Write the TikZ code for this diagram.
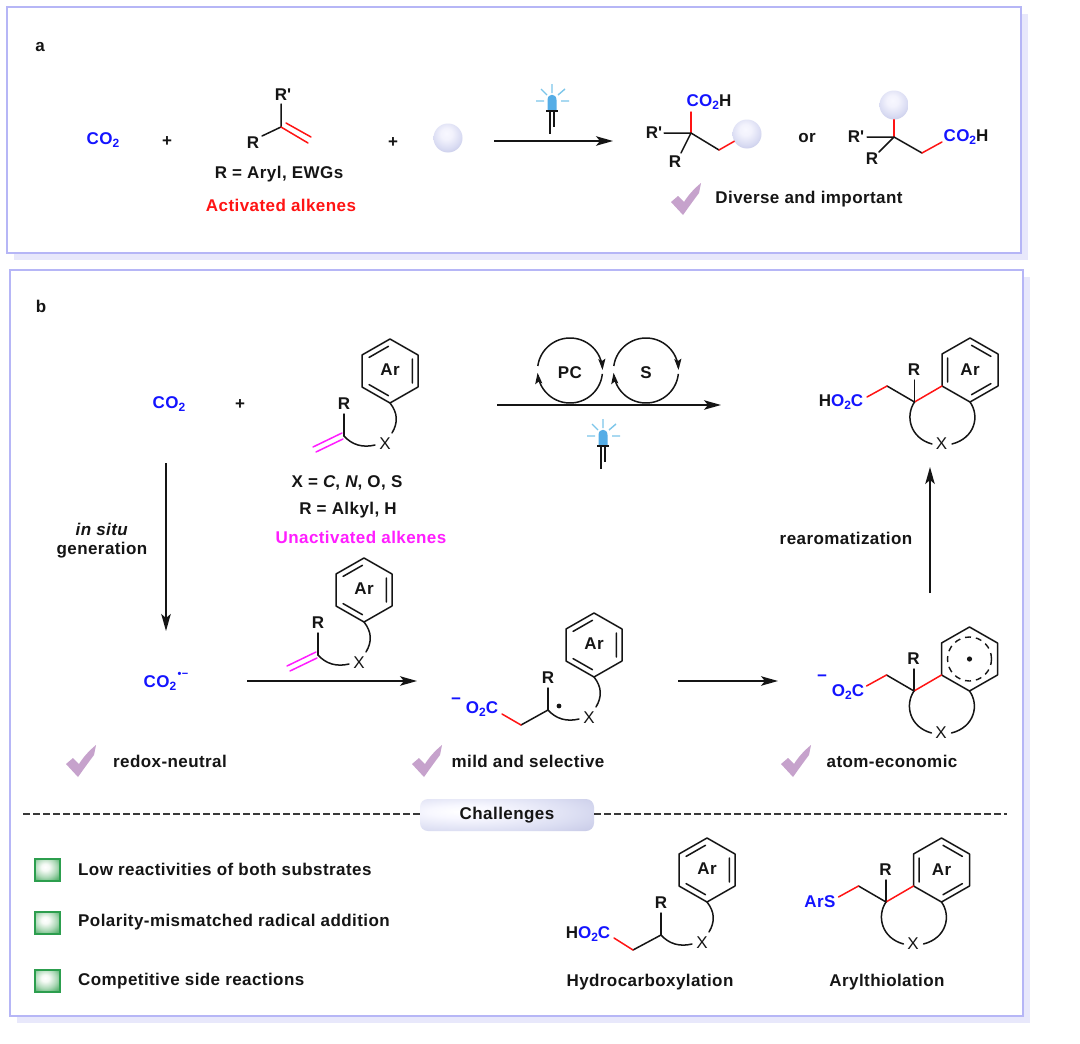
\documentclass[tikz,border=0pt]{standalone}
\usepackage{fontspec}
\setmainfont[LetterSpace=2.5]{Liberation Sans}
\newfontfamily\straightfont[LetterSpace=2.5]{Liberation Sans}
\usetikzlibrary{arrows.meta,calc}
\definecolor{frameblue}{HTML}{B6B6F6}
\definecolor{frameshadow}{HTML}{E8E8FB}
\definecolor{chemblue}{HTML}{1414FF}
\definecolor{chemred}{HTML}{FF1414}
\definecolor{chemmag}{HTML}{FF1EFF}
\definecolor{checkpurple}{HTML}{C6A2CC}
\definecolor{ink}{HTML}{151515}
\definecolor{ledblue}{HTML}{55ADE6}
\definecolor{ledray}{HTML}{7CC6EA}
\definecolor{greenedge}{HTML}{2C9E4E}
\pgfdeclareradialshading{sphereshade}{\pgfpoint{-3bp}{8bp}}{rgb(0bp)=(.97,.97,1);rgb(10bp)=(.95,.95,.99);rgb(25bp)=(.85,.86,.95);rgb(36bp)=(.76,.77,.90);rgb(100bp)=(.74,.75,.88)}
\pgfdeclareradialshading{greenshade}{\pgfpoint{-5bp}{7bp}}{rgb(0bp)=(1,1,1);rgb(8bp)=(.96,.98,.96);rgb(22bp)=(.68,.85,.72);rgb(34bp)=(.36,.70,.45);rgb(100bp)=(.30,.65,.40)}
\pgfdeclareradialshading{pillshade}{\pgfpoint{-14bp}{6bp}}{rgb(0bp)=(1,1,1);rgb(10bp)=(.97,.97,1);rgb(30bp)=(.86,.87,.95);rgb(42bp)=(.79,.80,.91);rgb(100bp)=(.76,.77,.89)}
\newcommand{\lowtwo}{\raisebox{-2.8pt}{\fontsize{12}{12}\selectfont 2}}
\newcommand{\bluetxt}[1]{\textcolor{chemblue}{#1}}
\newcommand{\rprime}{R{\straightfont\bfseries'}}
\tikzset{
  lab/.style={font=\fontsize{17}{19}\selectfont\bfseries,text=ink,inner sep=0pt},
  bnd/.style={line width=1.5pt,draw=ink,line cap=round},
  redbnd/.style={line width=1.5pt,draw=chemred,line cap=round},
  magbnd/.style={line width=1.5pt,draw=chemmag,line cap=round},
  xlab/.style={font=\fontsize{17}{18}\selectfont,text=ink,inner sep=0pt},
  rxnarrow/.style={line width=1.5pt,draw=ink,-{Stealth[length=17pt,width=9.5pt,inset=4pt]}},
  cycarrow/.style={line width=1.5pt,draw=ink,-{Stealth[length=11pt,width=7pt,inset=2pt]}},
  ball/.style={circle,minimum size=29pt,inner sep=0pt,shading=sphereshade},
  gbox/.style={rectangle,minimum width=25pt,minimum height=22pt,inner sep=0pt,draw=greenedge,line width=1.7pt,shading=greenshade},
  framebox/.style={draw=frameblue,line width=2pt,fill=white},
  shadowbox/.style={fill=frameshadow,draw=none}
}
\newcommand{\ringpend}{%
  \draw[bnd,line join=round] (0,-32)--(28,-16)--(28,16)--(0,32)--(-28,16)--(-28,-16)--cycle;
  \draw[bnd] (-1.5,-24.7)--(-20.9,-13.6) (22.4,-12)--(22.4,12) (-20.9,13.6)--(-1.5,24.7);
}
\newcommand{\ringfused}{%
  \draw[bnd,line join=round] (0,-32)--(28,-16)--(28,16)--(0,32)--(-28,16)--(-28,-16)--cycle;
  \draw[bnd] (-22.4,-12)--(-22.4,12) (1.5,-24.7)--(20.9,-13.6) (20.9,13.6)--(1.5,24.7);
}
\newcommand{\pendant}[3]{%
  \begin{scope}[shift={(#2,#3)}]
    \ringpend
    \node[lab] (#1ar) at (0,-1) {Ar};
    \node[lab] (#1r) at (-46,33) {R};
    \node[xlab] (#1x) at (-5,73) {X};
    \coordinate (#1c) at (-46,65);
    \coordinate (#1rb) at (-46,43);
    \draw[bnd] (#1rb)--(#1c);
    \draw[bnd] (0,32) .. controls (8,42) and (8,52) .. (2,62);
    \draw[bnd] (#1c) .. controls (-38,74) and (-27,77) .. (-15,74);
  \end{scope}}
\newcommand{\fusedframe}[3]{%
  \begin{scope}[shift={(#2,#3)}]
    \node[lab] (#1r) at (-56,0) {R};
    \node[xlab] (#1x) at (-28.5,74) {X};
    \coordinate (#1c) at (-55.5,32);
    \coordinate (#1rb) at (-55.5,10);
    \coordinate (#1ra) at (-28,16);
    \coordinate (#1m) at (-83,16);
    \coordinate (#1e) at (-103,27);
    \draw[bnd] (#1rb)--(#1c);
    \draw[redbnd] (#1c)--(#1ra);
    \draw[bnd] (#1c)--(#1m);
    \draw[redbnd] (#1m)--(#1e);
    \draw[bnd] (#1c) .. controls (-65,46) and (-60,68) .. (-38,74);
    \draw[bnd] (0,32) .. controls (10,46) and (5,68) .. (-18,74);
  \end{scope}}
\newcommand{\tickmark}[2]{%
  \fill[checkpurple,shift={(#1,#2)}] (-12,-13)--(-5,-19)--(1,-13) .. controls (6,-21) and (12,-27) .. (18,-32)--(16,-22) .. controls (10,-14) and (5,-7) .. (0,0)--cycle;}
\newcommand{\ledlamp}[2]{%
  \begin{scope}[shift={(#1,#2)}]
    \draw[ledray,line width=1.4pt] (0,0)--(0,9) (-16,17)--(-8,17) (9,17)--(17,17) (-11,5)--(-5,11) (13,5)--(6,11);
    \fill[ledblue] (-4.5,26) -- (-4.5,16) .. controls (-4.5,9) and (4.5,9) .. (4.5,16) -- (4.5,26) -- cycle;
    \draw[ink,line width=1.9pt] (-6,27)--(6,27);
    \draw[ink,line width=1.2pt] (-2,27)--(-2,50) (2,27)--(2,43);
  \end{scope}}
\begin{document}
\begin{tikzpicture}[x=1pt,y=-1pt]
\useasboundingbox (0,0) rectangle (1080,1044);
\fill[white] (0,0) rectangle (1080,1044);
% frames
\path[shadowbox] (14,14) rectangle (1028,260);
\path[framebox] (7,7) rectangle (1021,253);
\path[shadowbox] (17,277) rectangle (1030,1023);
\path[framebox] (10,270) rectangle (1023,1016);
% ---- panel a
\node[lab] (tagA) at (40,47) {a};
\node[lab] (co2A) at (103,140) {\bluetxt{CO\lowtwo}};
\node[lab] (plusA1) at (167,142) {+};
\node[lab] (rpA) at (283,95) {\rprime};
\node[lab] (rA) at (253,143) {R};
\coordinate (vA) at (281,127);
\coordinate (vAu) at (281,104);
\coordinate (vAl) at (262,136);
\draw[bnd] (vAu)--(vA)--(vAl);
\coordinate (dA1) at (286,123);\coordinate (dA2) at (311,137);\coordinate (dA3) at (308,143);
\draw[redbnd] (dA1)--(dA2) (vA)--(dA3);
\node[lab] (descA) at (279,174) {R = Aryl, EWGs};
\node[lab,text=chemred] (activ) at (281,205) {Activated alkenes};
\node[lab] (plusA2) at (393,143) {+};
\node[ball] (ballA) at (448,138) {};
\coordinate (arrAs) at (494,141);\coordinate (arrAe) at (613,141);
\draw[rxnarrow] (arrAs)--(arrAe);
\ledlamp{552}{84}
% product 1
\node[lab] (acid1) at (709,102) {\bluetxt{CO\lowtwo}H};
\node[lab] (rp1) at (654,133) {\rprime};
\node[lab] (r1) at (675,162) {R};
\coordinate (v1) at (691,133);\coordinate (v1u) at (691,112);\coordinate (v1l) at (664,133);\coordinate (v1d) at (681,153);\coordinate (m1) at (719,150);
\node[ball] (ball1) at (747,134) {};
\draw[redbnd] (v1)--(v1u);
\draw[bnd] (v1l)--(v1) (v1d)--(v1) (v1)--(m1);
\draw[redbnd] (m1)--(ball1);
\node[lab] (orlab) at (807,138) {or};
% product 2
\node[ball] (ball2) at (894,105) {};
\node[lab] (rp2) at (856,137) {\rprime};
\node[lab] (r2) at (872,159) {R};
\node[lab] (acid2) at (966,137) {\bluetxt{CO\lowtwo}H};
\coordinate (v2) at (894,137);\coordinate (v2l) at (867,137);\coordinate (v2d) at (879,152);\coordinate (m2) at (922,153);\coordinate (e2) at (942,142);
\draw[redbnd] (v2)--(ball2);
\draw[bnd] (v2l)--(v2) (v2d)--(v2) (v2)--(m2);
\draw[redbnd] (m2)--(e2);
\tickmark{683}{215}
\node[lab] (divers) at (809,199) {Diverse and important};
% ---- panel b
\node[lab] (tagB) at (41,306) {b};
\node[lab] (co2B) at (169,404) {\bluetxt{CO\lowtwo}};
\node[lab] (plusB) at (240,405) {+};
\pendant{sa}{390}{371}
\draw[magbnd] (342,433)--(313,447) (343,439)--(316,452);
\node[lab] (xdesc) at (347,483) {X = \textit{C}, \textit{N}, O, S};
\node[lab] (rdesc) at (348,510) {R = Alkyl, H};
\node[lab,text=chemmag] (unact) at (361,537) {Unactivated alkenes};
% dual catalytic cycles
\coordinate (arrBs) at (497,405);\coordinate (arrBe) at (721,405);
\draw[rxnarrow] (arrBs)--(arrBe);
\draw[cycarrow] plot[domain=188:359,samples=40] ({570+32.5*cos(\x)},{370.5+32.5*sin(\x)});
\draw[cycarrow] plot[domain=6:176,samples=40] ({570+32.5*cos(\x)},{370.5+32.5*sin(\x)});
\draw[cycarrow] plot[domain=188:359,samples=40] ({646+32.5*cos(\x)},{370.5+32.5*sin(\x)});
\draw[cycarrow] plot[domain=6:176,samples=40] ({646+32.5*cos(\x)},{370.5+32.5*sin(\x)});
\node[lab] (pc) at (570,373) {PC};
\node[lab] (sc) at (646,373) {S};
\ledlamp{603}{419}
% product top right
\begin{scope}[shift={(970,370)}]\ringfused\end{scope}
\node[lab] (arT) at (970,370) {Ar};
\fusedframe{pt}{970}{370}
\node[lab] (hoT) at (841,402) {H\bluetxt{O\lowtwo C}};
% in situ
\coordinate (dns) at (166,463);\coordinate (dne) at (166,631);
\draw[rxnarrow] (dns)--(dne);
\node[lab] (insitu) at (102,529) {\textit{in situ}};
\node[lab] (gener) at (102,550) {generation};
\node[lab] (co2rad) at (160,683) {\bluetxt{CO\lowtwo}};
\node[lab,text=chemblue] (radmark) at (183,675) {\fontsize{11}{11}\selectfont •−};
\coordinate (a1s) at (247,681);\coordinate (a1e) at (417,681);
\draw[rxnarrow] (a1s)--(a1e);
\pendant{sb}{364}{590}
\draw[magbnd] (316,652)--(287,666) (317,658)--(290,671);
% radical intermediate
\pendant{sc}{594}{645}
\coordinate (cm) at (521,725);\coordinate (ce) at (502,714);
\draw[bnd] (scc)--(cm);
\draw[redbnd] (cm)--(ce);
\node[lab] (o2cI) at (482,709) {\bluetxt{O\lowtwo C}};
\node[lab,text=chemblue] (minusI) at (456,701) {−};
\fill[ink] (559,706) circle (2.4);
\coordinate (a2s) at (678,681);\coordinate (a2e) at (778,681);
\draw[rxnarrow] (a2s)--(a2e);
% cyclohexadienyl radical
\begin{scope}[shift={(969.5,659)}]
  \draw[bnd,line join=round] (0,-32)--(28,-16)--(28,16)--(0,32)--(-28,16)--(-28,-16)--cycle;
  \draw[line width=1.4pt,draw=ink,dash pattern=on 6pt off 5pt] (0,0) circle (22);
  \fill[ink] (0,0) circle (2.6);
\end{scope}
\fusedframe{cy}{969.5}{659}
\node[lab] (o2cC) at (848,692) {\bluetxt{O\lowtwo C}};
\node[lab,text=chemblue] (minusC) at (822,678) {−};
\coordinate (ups) at (930,593);\coordinate (upe) at (930,467);
\draw[rxnarrow] (ups)--(upe);
\node[lab] (rearom) at (846,538) {rearomatization};
% ticks
\tickmark{78}{777}
\node[lab] (redox) at (170,761) {redox-neutral};
\tickmark{424}{777}
\node[lab] (mild) at (528,761) {mild and selective};
\tickmark{793}{777}
\node[lab] (atom) at (892,761) {atom-economic};
% challenges
\node[lab,rectangle,rounded corners=8pt,minimum width=174pt,minimum height=32pt,shading=pillshade] (chal) at (507,815) {Challenges};
\coordinate (dl1) at (23,814);\coordinate (dl2) at (1007,814);
\draw[line width=1.3pt,draw=ink!85,dash pattern=on 6.5pt off 3.5pt] (dl1)--(chal.west |- dl1);
\draw[line width=1.3pt,draw=ink!85,dash pattern=on 6.5pt off 3.5pt] (chal.east |- dl2)--(dl2);
\node[gbox] (g1) at (47.5,870) {};
\node[gbox] (g2) at (47.5,923) {};
\node[gbox] (g3) at (47.5,981) {};
\node[lab,anchor=west] (c1) at (78,869) {Low reactivities of both substrates};
\node[lab,anchor=west] (c2) at (78,922) {Polarity-mismatched radical addition};
\node[lab,anchor=west] (c3) at (78,981) {Competitive side reactions};
% hydrocarboxylation
\pendant{hc}{707}{870}
\coordinate (hm) at (633,950);\coordinate (he) at (614,938);
\draw[bnd] (hcc)--(hm);
\draw[redbnd] (hm)--(he);
\node[lab] (hoH) at (588,934) {H\bluetxt{O\lowtwo C}};
\node[lab] (hlab) at (650,982) {Hydrocarboxylation};
% arylthiolation
\begin{scope}[shift={(941.5,870)}]\ringfused\end{scope}
\node[lab] (arS) at (941.5,870) {Ar};
\fusedframe{at}{941.5}{870}
\node[lab] (arsT) at (820,902) {\bluetxt{ArS}};
\node[lab] (alab) at (887,982) {Arylthiolation};
\end{tikzpicture}
\end{document}
